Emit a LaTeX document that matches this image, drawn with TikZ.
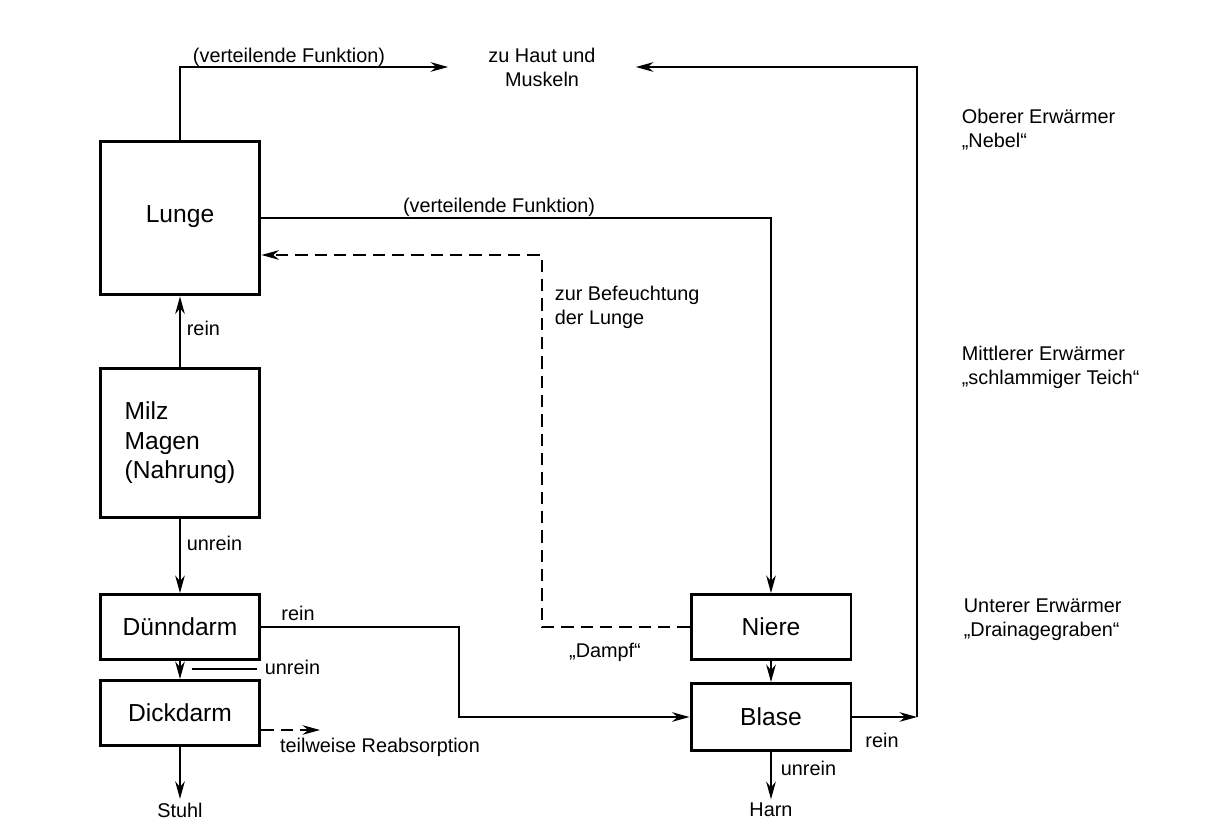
\documentclass[tikz,border=0pt]{standalone}
\usepackage{fontspec}
\setmainfont{Liberation Sans}
\usepackage{tikz}
\usetikzlibrary{arrows.meta,positioning,calc}

\begin{document}
\begin{tikzpicture}[x=0.02cm,y=-0.02cm,
    kasten/.style={draw,line width=1.7pt,minimum width=3.2cm,minimum height=1.3cm,
                   inner sep=0pt,font=\fontsize{14}{16.8}\selectfont},
    beschr/.style={font=\fontsize{11.3}{13.6}\selectfont,inner sep=2pt},
    fluss/.style={line width=0.75pt,-{Stealth[length=10pt,width=5.5pt]}},
    dampfl/.style={fluss,dash pattern=on 7pt off 4pt}]
  \useasboundingbox[fill=white] (0,0) rectangle (1213,831);

  % Organe
  \node[kasten,minimum height=3.08cm] (lunge) at (180,218) {\raisebox{5pt}{Lunge}};
  \node[kasten,minimum height=3cm,align=left] (milz) at (180,443) {Milz\\Magen\\(Nahrung)};
  \node[kasten] (duenn) at (180,627) {Dünndarm};
  \node[kasten] (dick) at (180,713) {Dickdarm};
  \node[kasten] (niere) at (771,627) {Niere};
  \node[kasten,minimum height=1.34cm] (blase) at (771,717) {Blase};

  \node[beschr,align=center,inner xsep=0.8cm] (haut) at (542,67) {zu Haut und\\Muskeln};
  \node[beschr] (stuhl) at (180,810) {Stuhl};
  \node[beschr] (harn) at (771,810) {Harn};

  \coordinate (feucht) at (542,255);
  \coordinate (knick) at (459,670);
  \coordinate (reab) at (320,730);
  \coordinate (ecke) at (917,717);
  \coordinate (leit) at (192,669);

  % Verbindungen
  \draw[fluss] (lunge.north) |- (haut.west);
  \draw[fluss] (lunge.east) -| (niere.north);
  \draw[dampfl] (niere.west) -| (feucht) -- (feucht -| lunge.east);
  \draw[fluss] (milz.north) -- (lunge.south);
  \draw[fluss] (milz.south) -- (duenn.north);
  \draw[fluss] (duenn.south) -- (dick.north);
  \draw[fluss] (dick.south) -- (stuhl.north);
  \draw[fluss] (duenn.east) -| (knick) |- (blase.west);
  \draw[dampfl] (dick.east |- reab) -- (reab);
  \draw[fluss] (niere.south) -- (blase.north);
  \draw[fluss] (blase.south) -- (harn.north);
  \draw[fluss] (blase.east) -- (ecke);
  \draw[fluss] (ecke) |- (haut.east);

  % Beschriftungen
  \node[beschr] (vf1) at (289,57) {(verteilende Funktion)};
  \node[beschr] (vf2) at (499,207) {(verteilende Funktion)};
  \node[beschr,anchor=west,align=left] (befeucht) at (551,307) {zur Befeuchtung\\der Lunge};
  \node[beschr] (dampf) at (605,652) {„Dampf“};
  \node[beschr,anchor=west] (rein1) at (183,328) {rein};
  \node[beschr,anchor=west] (unrein1) at (183,543) {unrein};
  \node[beschr] (rein2) at (298,613) {rein};
  \node[beschr,anchor=west] (unrein2) at (261,667) {unrein};
  \draw[line width=0.75pt] (leit) -- ([xshift=-2pt]leit -| unrein2.west);
  \node[beschr] (reabs) at (380,747) {teilweise Reabsorption};
  \node[beschr,anchor=west] (unrein3) at (777,768) {unrein};
  \node[beschr] (rein3) at (882,740) {rein};

  % die drei Erwärmer
  \node[beschr,anchor=west,align=left] (oben) at (958,130) {Oberer Erwärmer\\„Nebel“};
  \node[beschr,anchor=west,align=left] (mitte) at (958,367) {Mittlerer Erwärmer\\„schlammiger Teich“};
  \node[beschr,anchor=west,align=left] (unten) at (960,620) {Unterer Erwärmer\\„Drainagegraben“};
\end{tikzpicture}
\end{document}
